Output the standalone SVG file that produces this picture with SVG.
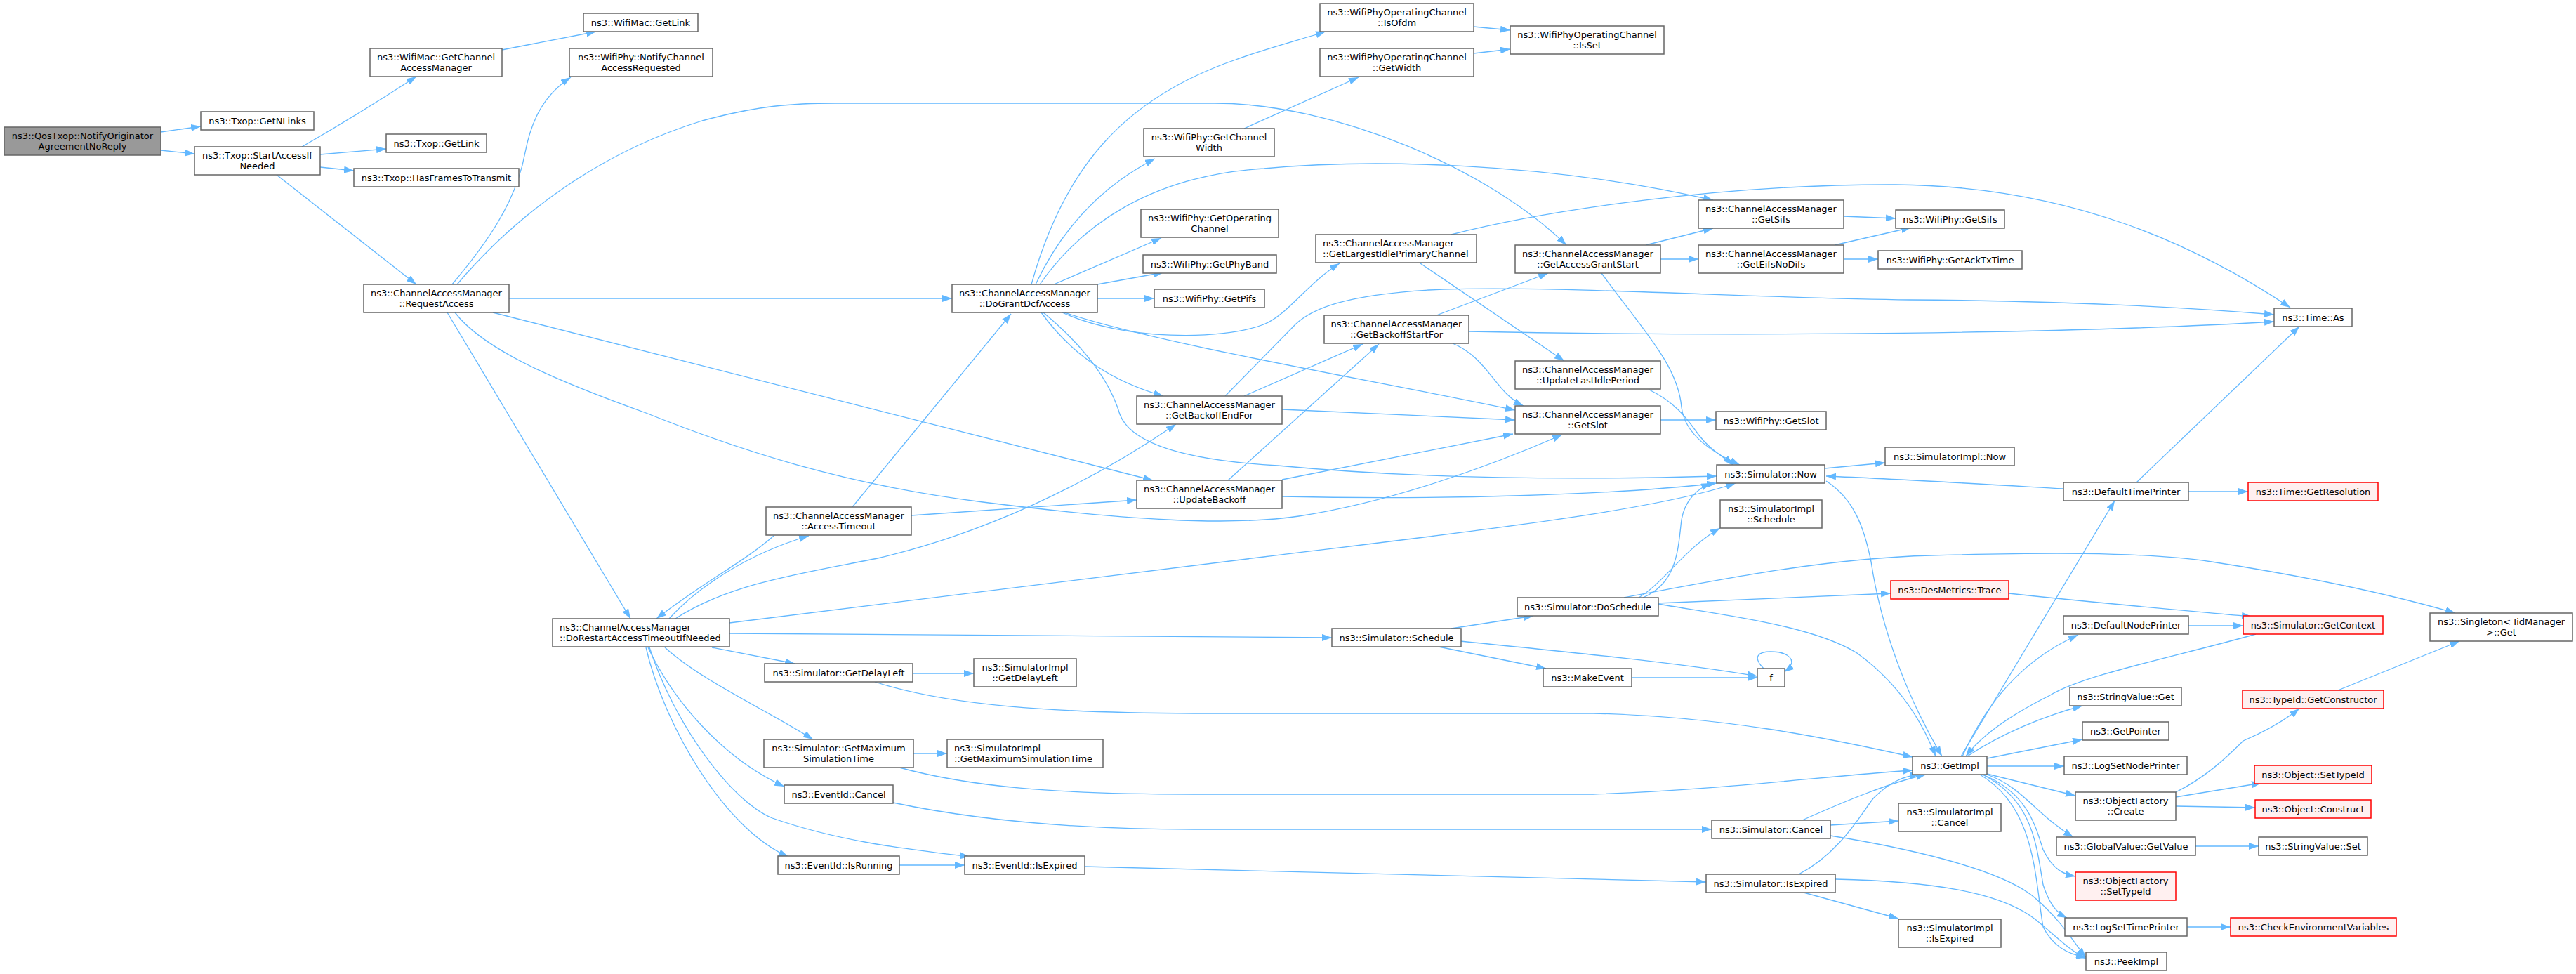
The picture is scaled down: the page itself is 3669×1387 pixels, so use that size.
<svg xmlns="http://www.w3.org/2000/svg" width="3669" height="1387" viewBox="0 0 3669 1387">
<defs>
<style>
.n rect{fill:#ffffff;stroke:#666666;stroke-width:1.5}
.r rect{fill:#fff0f0;stroke:#ff0000;stroke-width:1.5}
.root rect{fill:#999999;stroke:#666666;stroke-width:1.5}
text{font-family:"DejaVu Sans","Liberation Sans",sans-serif;font-size:13px;fill:#000000;text-anchor:middle}
text.l{text-anchor:start}
#edges path{fill:none;stroke:#63b8ff;stroke-width:1.3;marker-end:url(#ah)}
</style>
<marker id="ah" markerUnits="userSpaceOnUse" markerWidth="14" markerHeight="10" refX="14" refY="5" orient="auto"><path d="M0,0L14,5L0,10z" fill="#63b8ff" stroke="none"/></marker>
</defs>
<rect width="3669" height="1387" fill="#ffffff"/>
<g id="edges">
<path d="M229,188L286,180"/>
<path d="M229,214L277,219"/>
<path d="M430,209C470,186 530,150 593,109"/>
<path d="M456,220L550,212"/>
<path d="M456,238L504,243"/>
<path d="M394,249L593,405"/>
<path d="M715,71L849,45"/>
<path d="M644,405C690,350 735,290 748,217C757,170 775,135 813,110"/>
<path d="M651,405C740,300 860,215 1000,172C1080,150 1130,147 1190,147L1730,147C1900,147 2120,240 2231,349"/>
<path d="M725,425L1356,425"/>
<path d="M702,445L1642,684"/>
<path d="M648,445C690,500 800,545 920,588C1050,640 1200,690 1400,715C1600,740 1750,750 1850,735C1980,715 2120,665 2225,619"/>
<path d="M637,445L898,881"/>
<path d="M1469,405C1515,240 1600,140 1760,85C1800,70 1850,57 1888,45"/>
<path d="M1475,405C1515,320 1575,262 1645,226"/>
<path d="M1481,405C1540,320 1640,250 1800,240C1950,226 2200,230 2440,285"/>
<path d="M1501,405L1654,339"/>
<path d="M1563,405L1657,388"/>
<path d="M1563,425L1644,425"/>
<path d="M1483,445C1530,510 1590,545 1657,564"/>
<path d="M1486,445C1540,490 1580,540 1595,590C1610,630 1680,655 1820,663C2000,680 2200,685 2445,678"/>
<path d="M1516,445C1650,490 1950,540 2158,584"/>
<path d="M1513,445C1600,485 1740,485 1800,462C1835,448 1860,405 1908,375"/>
<path d="M1772,183L1935,110"/>
<path d="M2099,38L2151,43"/>
<path d="M2099,76L2151,70"/>
<path d="M2067,334C2200,300 2450,262 2700,263C2950,265 3130,350 3262,438"/>
<path d="M2023,375L2228,514"/>
<path d="M2344,349L2440,325"/>
<path d="M2365,369L2419,369"/>
<path d="M2281,389C2340,470 2390,520 2395,580C2400,620 2440,645 2478,662"/>
<path d="M2349,555C2390,575 2405,600 2420,620C2435,640 2455,650 2468,662"/>
<path d="M2626,308L2700,311"/>
<path d="M2613,349L2722,324"/>
<path d="M2626,369L2675,369"/>
<path d="M2046,449L2205,389"/>
<path d="M2069,489C2120,510 2130,560 2170,578"/>
<path d="M2092,472C2500,480 2950,475 3239,458"/>
<path d="M1772,564L1941,490"/>
<path d="M1826,583L2158,598"/>
<path d="M1745,564L1845,462C1870,438 1920,420 2035,413C2200,405 2500,425 2720,427C2900,428 3080,435 3239,448"/>
<path d="M1749,684L1964,490"/>
<path d="M1826,683L2155,618"/>
<path d="M1826,707C2050,712 2300,705 2445,688"/>
<path d="M2365,598L2444,598"/>
<path d="M1214,722L1440,447"/>
<path d="M1298,734L1619,712"/>
<path d="M1102,763C1060,800 1000,830 935,881"/>
<path d="M953,881C990,840 1060,790 1152,763"/>
<path d="M962,881C1040,830 1150,815 1250,795C1400,760 1550,690 1675,604"/>
<path d="M1039,887L1800,793C2050,762 2350,730 2472,688"/>
<path d="M1039,902L1897,908"/>
<path d="M1014,922L1132,945"/>
<path d="M947,922C1000,970 1090,1010 1158,1053"/>
<path d="M923,922C960,1000 1030,1080 1117,1120"/>
<path d="M920,922C945,1030 1030,1180 1123,1220"/>
<path d="M925,922C960,1030 1040,1140 1100,1165C1200,1200 1300,1210 1381,1220"/>
<path d="M1300,959L1387,959"/>
<path d="M1246,971C1350,1005 1500,1015 1700,1016L2269,1016C2450,1020 2600,1050 2724,1078"/>
<path d="M1301,1073L1349,1073"/>
<path d="M1281,1093C1380,1120 1500,1131 1700,1131L2269,1131C2450,1125 2600,1105 2724,1097"/>
<path d="M1272,1143C1400,1170 1550,1181 1700,1181L2438,1181"/>
<path d="M1281,1232L1374,1232"/>
<path d="M1545,1234L2430,1256"/>
<path d="M2067,895L2184,877"/>
<path d="M2049,921L2202,952"/>
<path d="M2080,913C2250,930 2400,945 2503,963"/>
<path d="M2324,965L2503,965"/>
<path d="M2512,952C2495,935 2505,928 2522,928C2545,928 2565,940 2541,957"/>
<path d="M2334,851C2370,830 2400,780 2450,752"/>
<path d="M2340,851C2390,830 2390,780 2395,740C2400,710 2420,695 2437,688"/>
<path d="M2361,859L2693,845"/>
<path d="M2313,851C2450,825 2600,795 2750,791C2900,787 3050,785 3150,800C3280,820 3400,845 3497,873"/>
<path d="M2361,860C2450,875 2580,890 2645,930C2700,970 2735,1020 2757,1077"/>
<path d="M2599,667L2685,659"/>
<path d="M2601,685C2640,710 2655,750 2665,800C2680,900 2720,1000 2766,1077"/>
<path d="M2939,696C2800,688 2700,682 2601,678"/>
<path d="M3043,687L3275,465"/>
<path d="M3117,700L3202,700"/>
<path d="M2793,1077L3012,713"/>
<path d="M2795,1077C2830,1000 2880,940 2960,904"/>
<path d="M3213,903C3100,935 2970,960 2920,990C2860,1020 2820,1050 2800,1077"/>
<path d="M3117,891L3195,891"/>
<path d="M2861,845C3000,860 3120,870 3207,878"/>
<path d="M3330,983L3503,913"/>
<path d="M2802,1077C2850,1045 2910,1020 2966,1005"/>
<path d="M2830,1080L2966,1053"/>
<path d="M2830,1091L2940,1091"/>
<path d="M2830,1102L2956,1133"/>
<path d="M2830,1103C2880,1120 2900,1160 2953,1192"/>
<path d="M2824,1103C2890,1130 2900,1180 2910,1210C2925,1240 2940,1245 2956,1248"/>
<path d="M2824,1103C2895,1140 2900,1200 2910,1260C2920,1290 2930,1300 2944,1307"/>
<path d="M2820,1103C2900,1150 2898,1250 2910,1320C2925,1350 2950,1360 2971,1363"/>
<path d="M3099,1128C3140,1108 3170,1080 3195,1055C3230,1040 3255,1025 3275,1009"/>
<path d="M3099,1135L3221,1115"/>
<path d="M3099,1148L3212,1150"/>
<path d="M3127,1205L3217,1205"/>
<path d="M3115,1320L3177,1320"/>
<path d="M2567,1168C2630,1140 2690,1115 2743,1103"/>
<path d="M2607,1175L2704,1169"/>
<path d="M2607,1190C2700,1205 2850,1235 2900,1280C2940,1315 2955,1345 2971,1363"/>
<path d="M2562,1245C2620,1215 2650,1160 2668,1137C2690,1115 2710,1105 2734,1103"/>
<path d="M2614,1252C2750,1255 2850,1270 2900,1310C2930,1335 2950,1355 2971,1365"/>
<path d="M2569,1271L2704,1308"/>
</g>
<g id="n1" class="root"><rect x="6" y="181" width="223" height="40"/><text x="117.5" y="198">ns3::QosTxop::NotifyOriginator</text><text x="117.5" y="213">AgreementNoReply</text></g>
<g id="n2" class="n"><rect x="286" y="159" width="161" height="26"/><text x="366.5" y="176.5">ns3::Txop::GetNLinks</text></g>
<g id="n3" class="n"><rect x="277" y="209" width="179" height="40"/><text x="366.5" y="226">ns3::Txop::StartAccessIf</text><text x="366.5" y="241">Needed</text></g>
<g id="n4" class="n"><rect x="527" y="69" width="188" height="40"/><text x="621" y="86">ns3::WifiMac::GetChannel</text><text x="621" y="101">AccessManager</text></g>
<g id="n5" class="n"><rect x="831" y="19" width="163" height="26"/><text x="912.5" y="36.5">ns3::WifiMac::GetLink</text></g>
<g id="n6" class="n"><rect x="811" y="69" width="204" height="40"/><text x="913" y="86">ns3::WifiPhy::NotifyChannel</text><text x="913" y="101">AccessRequested</text></g>
<g id="n7" class="n"><rect x="550" y="191" width="143" height="26"/><text x="621.5" y="208.5">ns3::Txop::GetLink</text></g>
<g id="n8" class="n"><rect x="504" y="240" width="235" height="26"/><text x="621.5" y="257.5">ns3::Txop::HasFramesToTransmit</text></g>
<g id="n9" class="n"><rect x="518" y="405" width="207" height="40"/><text x="621.5" y="422">ns3::ChannelAccessManager</text><text x="621.5" y="437">::RequestAccess</text></g>
<g id="n10" class="n"><rect x="787" y="881" width="252" height="40"/><text class="l" x="797" y="898">ns3::ChannelAccessManager</text><text class="l" x="797" y="913">::DoRestartAccessTimeoutIfNeeded</text></g>
<g id="n11" class="n"><rect x="1629" y="183" width="186" height="40"/><text x="1722" y="200">ns3::WifiPhy::GetChannel</text><text x="1722" y="215">Width</text></g>
<g id="n12" class="n"><rect x="1625" y="298" width="196" height="40"/><text x="1723" y="315">ns3::WifiPhy::GetOperating</text><text x="1723" y="330">Channel</text></g>
<g id="n13" class="n"><rect x="1628" y="363" width="190" height="26"/><text x="1723" y="380.5">ns3::WifiPhy::GetPhyBand</text></g>
<g id="n14" class="n"><rect x="1644" y="412" width="157" height="26"/><text x="1722.5" y="429.5">ns3::WifiPhy::GetPifs</text></g>
<g id="n15" class="n"><rect x="1356" y="405" width="207" height="40"/><text x="1459.5" y="422">ns3::ChannelAccessManager</text><text x="1459.5" y="437">::DoGrantDcfAccess</text></g>
<g id="n16" class="n"><rect x="1880" y="5" width="219" height="40"/><text x="1989.5" y="22">ns3::WifiPhyOperatingChannel</text><text x="1989.5" y="37">::IsOfdm</text></g>
<g id="n17" class="n"><rect x="2151" y="37" width="219" height="40"/><text x="2260.5" y="54">ns3::WifiPhyOperatingChannel</text><text x="2260.5" y="69">::IsSet</text></g>
<g id="n18" class="n"><rect x="1880" y="69" width="219" height="40"/><text x="1989.5" y="86">ns3::WifiPhyOperatingChannel</text><text x="1989.5" y="101">::GetWidth</text></g>
<g id="n19" class="n"><rect x="1874" y="334" width="229" height="40"/><text class="l" x="1884" y="351">ns3::ChannelAccessManager</text><text class="l" x="1884" y="366">::GetLargestIdlePrimaryChannel</text></g>
<g id="n20" class="n"><rect x="2158" y="349" width="207" height="40"/><text x="2261.5" y="366">ns3::ChannelAccessManager</text><text x="2261.5" y="381">::GetAccessGrantStart</text></g>
<g id="n21" class="n"><rect x="2419" y="285" width="207" height="40"/><text x="2522.5" y="302">ns3::ChannelAccessManager</text><text x="2522.5" y="317">::GetSifs</text></g>
<g id="n22" class="n"><rect x="2419" y="349" width="207" height="40"/><text x="2522.5" y="366">ns3::ChannelAccessManager</text><text x="2522.5" y="381">::GetEifsNoDifs</text></g>
<g id="n23" class="n"><rect x="2700" y="299" width="155" height="26"/><text x="2777.5" y="316.5">ns3::WifiPhy::GetSifs</text></g>
<g id="n24" class="n"><rect x="2675" y="357" width="205" height="26"/><text x="2777.5" y="374.5">ns3::WifiPhy::GetAckTxTime</text></g>
<g id="n25" class="n"><rect x="1886" y="449" width="206" height="40"/><text x="1989" y="466">ns3::ChannelAccessManager</text><text x="1989" y="481">::GetBackoffStartFor</text></g>
<g id="n26" class="n"><rect x="3239" y="439" width="111" height="26"/><text x="3294.5" y="456.5">ns3::Time::As</text></g>
<g id="n27" class="n"><rect x="1619" y="564" width="207" height="40"/><text x="1722.5" y="581">ns3::ChannelAccessManager</text><text x="1722.5" y="596">::GetBackoffEndFor</text></g>
<g id="n28" class="n"><rect x="1619" y="684" width="207" height="40"/><text x="1722.5" y="701">ns3::ChannelAccessManager</text><text x="1722.5" y="716">::UpdateBackoff</text></g>
<g id="n29" class="n"><rect x="1091" y="722" width="207" height="40"/><text x="1194.5" y="739">ns3::ChannelAccessManager</text><text x="1194.5" y="754">::AccessTimeout</text></g>
<g id="n30" class="n"><rect x="2158" y="514" width="207" height="40"/><text x="2261.5" y="531">ns3::ChannelAccessManager</text><text x="2261.5" y="546">::UpdateLastIdlePeriod</text></g>
<g id="n31" class="n"><rect x="2158" y="578" width="207" height="40"/><text x="2261.5" y="595">ns3::ChannelAccessManager</text><text x="2261.5" y="610">::GetSlot</text></g>
<g id="n32" class="n"><rect x="2444" y="586" width="157" height="26"/><text x="2522.5" y="603.5">ns3::WifiPhy::GetSlot</text></g>
<g id="n33" class="n"><rect x="2445" y="662" width="154" height="26"/><text x="2522" y="679.5">ns3::Simulator::Now</text></g>
<g id="n34" class="n"><rect x="2450" y="712" width="145" height="40"/><text x="2522.5" y="729">ns3::SimulatorImpl</text><text x="2522.5" y="744">::Schedule</text></g>
<g id="n35" class="n"><rect x="2161" y="851" width="201" height="26"/><text x="2261.5" y="868.5">ns3::Simulator::DoSchedule</text></g>
<g id="n36" class="n"><rect x="1897" y="895" width="184" height="26"/><text x="1989" y="912.5">ns3::Simulator::Schedule</text></g>
<g id="n37" class="n"><rect x="2685" y="637" width="184" height="26"/><text x="2777" y="654.5">ns3::SimulatorImpl::Now</text></g>
<g id="n38" class="n"><rect x="2939" y="687" width="178" height="26"/><text x="3028" y="704.5">ns3::DefaultTimePrinter</text></g>
<g id="n39" class="r"><rect x="3202" y="687" width="185" height="26"/><text x="3294.5" y="704.5">ns3::Time::GetResolution</text></g>
<g id="n40" class="r"><rect x="2693" y="827" width="168" height="26"/><text x="2777" y="844.5">ns3::DesMetrics::Trace</text></g>
<g id="n41" class="n"><rect x="2939" y="877" width="178" height="26"/><text x="3028" y="894.5">ns3::DefaultNodePrinter</text></g>
<g id="n42" class="r"><rect x="3195" y="877" width="199" height="26"/><text x="3294.5" y="894.5">ns3::Simulator::GetContext</text></g>
<g id="n43" class="n"><rect x="3461" y="873" width="203" height="40"/><text x="3562.5" y="890">ns3::Singleton&lt; IidManager</text><text x="3562.5" y="905">&gt;::Get</text></g>
<g id="n44" class="n"><rect x="1089" y="945" width="211" height="26"/><text x="1194.5" y="962.5">ns3::Simulator::GetDelayLeft</text></g>
<g id="n45" class="n"><rect x="1387" y="938" width="146" height="40"/><text x="1460" y="955">ns3::SimulatorImpl</text><text x="1460" y="970">::GetDelayLeft</text></g>
<g id="n46" class="n"><rect x="1088" y="1053" width="213" height="40"/><text x="1194.5" y="1070">ns3::Simulator::GetMaximum</text><text x="1194.5" y="1085">SimulationTime</text></g>
<g id="n47" class="n"><rect x="1349" y="1053" width="222" height="40"/><text class="l" x="1359" y="1070">ns3::SimulatorImpl</text><text class="l" x="1359" y="1085">::GetMaximumSimulationTime</text></g>
<g id="n48" class="n"><rect x="1117" y="1118" width="155" height="26"/><text x="1194.5" y="1135.5">ns3::EventId::Cancel</text></g>
<g id="n49" class="n"><rect x="1108" y="1219" width="173" height="26"/><text x="1194.5" y="1236.5">ns3::EventId::IsRunning</text></g>
<g id="n50" class="n"><rect x="1374" y="1219" width="171" height="26"/><text x="1459.5" y="1236.5">ns3::EventId::IsExpired</text></g>
<g id="n51" class="n"><rect x="2198" y="952" width="126" height="26"/><text x="2261" y="969.5">ns3::MakeEvent</text></g>
<g id="n52" class="n"><rect x="2503" y="952" width="39" height="26"/><text x="2522.5" y="969.5">f</text></g>
<g id="n53" class="n"><rect x="2438" y="1168" width="169" height="26"/><text x="2522.5" y="1185.5">ns3::Simulator::Cancel</text></g>
<g id="n54" class="n"><rect x="2430" y="1245" width="184" height="26"/><text x="2522" y="1262.5">ns3::Simulator::IsExpired</text></g>
<g id="n55" class="n"><rect x="2724" y="1077" width="106" height="26"/><text x="2777" y="1094.5">ns3::GetImpl</text></g>
<g id="n56" class="n"><rect x="2948" y="979" width="159" height="26"/><text x="3027.5" y="996.5">ns3::StringValue::Get</text></g>
<g id="n57" class="n"><rect x="2966" y="1028" width="123" height="26"/><text x="3027.5" y="1045.5">ns3::GetPointer</text></g>
<g id="n58" class="n"><rect x="2940" y="1077" width="175" height="26"/><text x="3027.5" y="1094.5">ns3::LogSetNodePrinter</text></g>
<g id="n59" class="n"><rect x="2956" y="1128" width="143" height="40"/><text x="3027.5" y="1145">ns3::ObjectFactory</text><text x="3027.5" y="1160">::Create</text></g>
<g id="n60" class="n"><rect x="2929" y="1192" width="198" height="26"/><text x="3028" y="1209.5">ns3::GlobalValue::GetValue</text></g>
<g id="n61" class="r"><rect x="2956" y="1242" width="143" height="40"/><text x="3027.5" y="1259">ns3::ObjectFactory</text><text x="3027.5" y="1274">::SetTypeId</text></g>
<g id="n62" class="n"><rect x="2941" y="1307" width="174" height="26"/><text x="3028" y="1324.5">ns3::LogSetTimePrinter</text></g>
<g id="n63" class="n"><rect x="2971" y="1356" width="115" height="26"/><text x="3028.5" y="1373.5">ns3::PeekImpl</text></g>
<g id="n64" class="r"><rect x="3194" y="983" width="201" height="26"/><text x="3294.5" y="1000.5">ns3::TypeId::GetConstructor</text></g>
<g id="n65" class="r"><rect x="3211" y="1090" width="167" height="26"/><text x="3294.5" y="1107.5">ns3::Object::SetTypeId</text></g>
<g id="n66" class="r"><rect x="3212" y="1139" width="165" height="26"/><text x="3294.5" y="1156.5">ns3::Object::Construct</text></g>
<g id="n67" class="n"><rect x="3217" y="1192" width="155" height="26"/><text x="3294.5" y="1209.5">ns3::StringValue::Set</text></g>
<g id="n68" class="r"><rect x="3177" y="1307" width="236" height="26"/><text x="3295" y="1324.5">ns3::CheckEnvironmentVariables</text></g>
<g id="n69" class="n"><rect x="2704" y="1144" width="146" height="40"/><text x="2777" y="1161">ns3::SimulatorImpl</text><text x="2777" y="1176">::Cancel</text></g>
<g id="n70" class="n"><rect x="2704" y="1309" width="146" height="40"/><text x="2777" y="1326">ns3::SimulatorImpl</text><text x="2777" y="1341">::IsExpired</text></g>
</svg>
